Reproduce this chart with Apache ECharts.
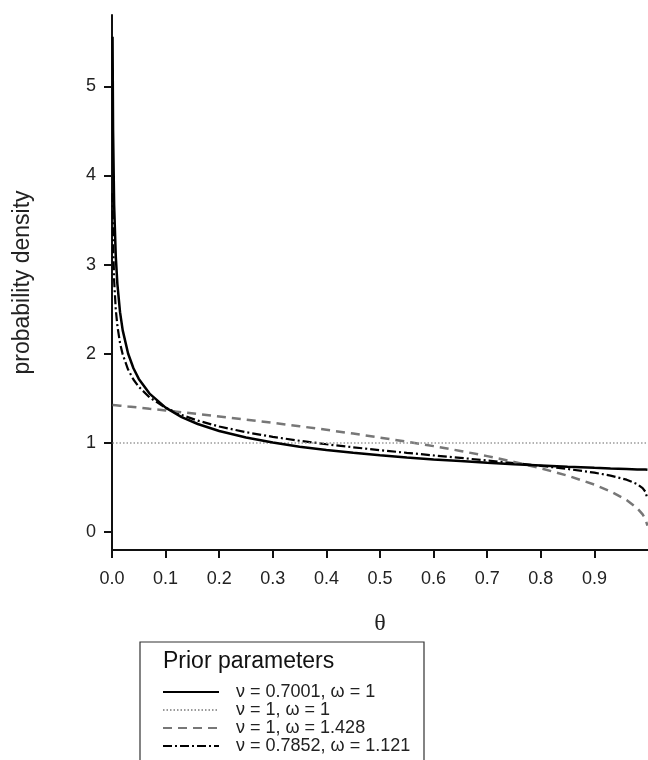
<!DOCTYPE html>
<html>
<head>
<meta charset="utf-8">
<script src="https://cdn.jsdelivr.net/npm/echarts@6/dist/echarts.min.js"></script>
<style>
html,body{margin:0;padding:0;background:#fff;}
#chart{width:648px;height:760px;}
</style>
</head>
<body>
<div id="chart"></div>
<script>
// theta sample positions (x axis)
const theta = [0.001, 0.002, 0.004, 0.007, 0.01, 0.015, 0.02, 0.03, 0.04, 0.05, 0.07, 0.1, 0.13, 0.16, 0.2, 0.25, 0.3, 0.35, 0.4, 0.45, 0.5, 0.55, 0.6, 0.65, 0.7, 0.75, 0.8, 0.85, 0.9, 0.93, 0.96, 0.98, 0.99, 0.995, 0.999];
// nu = 0.7001, omega = 1 (solid)
const densSolid = [5.557, 4.514, 3.667, 3.100, 2.786, 2.467, 2.263, 2.004, 1.838, 1.719, 1.554, 1.397, 1.291, 1.213, 1.134, 1.061, 1.005, 0.959, 0.921, 0.890, 0.862, 0.837, 0.816, 0.797, 0.779, 0.763, 0.749, 0.735, 0.722, 0.715, 0.709, 0.704, 0.703, 0.702, 0.700];
// nu = 1, omega = 1 (dotted)
const densDotted = [1, 1, 1, 1, 1, 1, 1, 1, 1, 1, 1, 1, 1, 1, 1, 1, 1, 1, 1, 1, 1, 1, 1, 1, 1, 1, 1, 1, 1, 1, 1, 1, 1, 1, 1];
// nu = 1, omega = 1.428 (dashed)
const densDashed = [1.427, 1.427, 1.426, 1.424, 1.422, 1.419, 1.416, 1.409, 1.403, 1.397, 1.384, 1.365, 1.345, 1.325, 1.298, 1.263, 1.226, 1.188, 1.148, 1.106, 1.061, 1.015, 0.965, 0.911, 0.853, 0.788, 0.716, 0.634, 0.533, 0.458, 0.360, 0.268, 0.199, 0.148, 0.074];
// nu = 0.7852, omega = 1.121 (dash-dot)
const densDashDot = [3.800, 3.274, 2.820, 2.500, 2.315, 2.120, 1.992, 1.824, 1.712, 1.630, 1.512, 1.395, 1.314, 1.251, 1.185, 1.121, 1.069, 1.025, 0.986, 0.952, 0.920, 0.890, 0.861, 0.833, 0.804, 0.775, 0.744, 0.709, 0.667, 0.634, 0.589, 0.539, 0.495, 0.454, 0.374];

const seriesNames = ['\u03bd = 0.7001, \u03c9 = 1', '\u03bd = 1, \u03c9 = 1', '\u03bd = 1, \u03c9 = 1.428', '\u03bd = 0.7852, \u03c9 = 1.121'];
const xTicks = [0, 0.1, 0.2, 0.3, 0.4, 0.5, 0.6, 0.7, 0.8, 0.9];
const yTicks = [0, 1, 2, 3, 4, 5];
const legendTitle = 'Prior parameters';
const xName = '\u03b8';
const yName = 'probability density';

function zip(xs, ys) { return xs.map((x, i) => [x, ys[i]]); }

const FONT = '"Liberation Sans", Arial, sans-serif';
const chart = echarts.init(document.getElementById('chart'), null, {renderer: 'canvas'});

const styles = [
  {color: '#000', width: 2.5, type: 'solid'},
  {color: '#999', width: 1.5, type: [1.5, 2]},
  {color: '#777', width: 2.5, type: [9, 6]},
  {color: '#000', width: 2.2, type: [9, 3, 2, 3]}
];
const datas = [densSolid, densDotted, densDashed, densDashDot];

chart.setOption({
  backgroundColor: '#fff',
  animation: false,
  grid: {left: 112, right: 0, top: 15, bottom: 210, containLabel: false, outerBoundsMode: 'none'},
  xAxis: {
    type: 'value', min: 0, max: 1, interval: 0.1,
    name: xName, nameLocation: 'middle', nameGap: 62,
    nameTextStyle: {fontFamily: '"Liberation Serif", "Times New Roman", serif', fontSize: 24, color: '#222'},
    axisLine: {onZero: false, lineStyle: {color: '#111', width: 2}},
    axisTick: {show: true, inside: false, length: 8, lineStyle: {color: '#111', width: 2}, customValues: xTicks},
    axisLabel: {customValues: xTicks, formatter: v => v.toFixed(1), fontFamily: FONT, fontSize: 18, color: '#222', margin: 20},
    splitLine: {show: false}
  },
  yAxis: {
    type: 'value', min: -0.2, max: 5.8,
    name: yName, nameLocation: 'middle', nameGap: 78,
    nameTextStyle: {fontFamily: FONT, fontSize: 23, color: '#222'},
    axisLine: {show: true, onZero: false, lineStyle: {color: '#111', width: 2}},
    axisTick: {show: true, inside: false, length: 8, lineStyle: {color: '#111', width: 2}, customValues: yTicks},
    axisLabel: {customValues: yTicks, fontFamily: FONT, fontSize: 18, color: '#222', margin: 16},
    splitLine: {show: false}
  },
  legend: {
    orient: 'vertical', left: 162, top: 683, padding: 0, height: 100, width: 260,
    itemWidth: 56, itemHeight: 14, itemGap: 0,
    data: seriesNames,
    itemStyle: {color: 'rgba(0,0,0,0)', borderColor: 'rgba(0,0,0,0)', borderWidth: 0},
    textStyle: {fontFamily: FONT, fontSize: 18, color: '#222', lineHeight: 14, padding: [0, 0, 0, 12]},
    selectedMode: false
  },
  graphic: [
    {type: 'rect', shape: {x: 140, y: 642, width: 284, height: 140},
     style: {fill: 'none', stroke: '#333', lineWidth: 1.2}, z: 10},
    {type: 'text', x: 163, y: 662, style: {text: legendTitle, font: '23px ' + FONT, fill: '#111', textVerticalAlign: 'middle'}, z: 10}
  ],
  series: datas.map((d, i) => ({
    type: 'line', name: seriesNames[i], data: zip(theta, d),
    symbol: 'none', showSymbol: false, smooth: false, clip: true,
    lineStyle: styles[i], itemStyle: {color: styles[i].color},
    z: 4 - i
  }))
});
</script>
</body>
</html>
